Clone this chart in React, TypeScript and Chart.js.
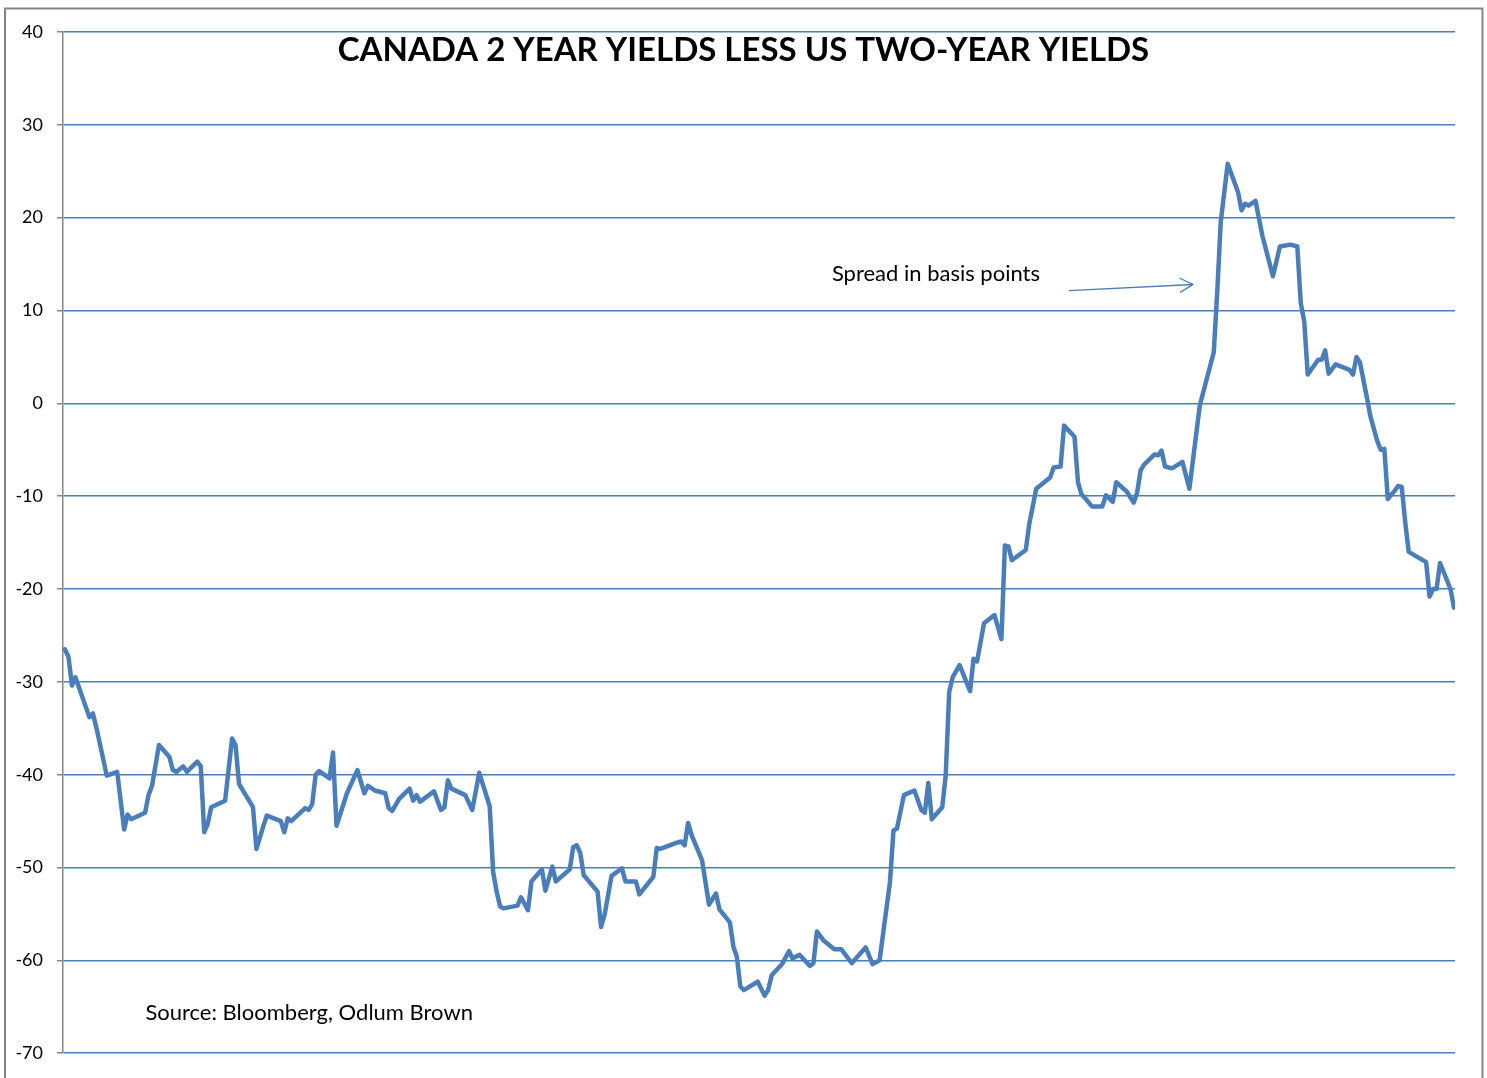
import React, { useEffect, useRef } from "react";
import { Chart, registerables } from "chart.js";

Chart.register(...registerables);

const TITLE = "CANADA 2 YEAR YIELDS LESS US TWO-YEAR YIELDS";
const NOTE = "Spread in basis points";
const SOURCE = "Source: Bloomberg, Odlum Brown";

// week index of each observation
const weeks: number[] = [
  1, 2, 3, 4, 8, 9, 10, 13, 16, 18,
  19, 20, 24, 25, 26, 28, 31, 32, 33, 35,
  36, 39, 40, 41, 42, 43, 47, 49, 50, 51,
  55, 56, 58, 59, 63, 64, 65, 66, 70, 71,
  72, 73, 74, 77, 78, 79, 82, 85, 87, 88,
  90, 93, 94, 95, 97, 100, 101, 102, 103, 107,
  109, 110, 111, 112, 116, 118, 120, 123, 124, 125,
  126, 127, 131, 132, 134, 135, 138, 139, 141, 142,
  146, 147, 148, 149, 150, 154, 155, 156, 158, 161,
  162, 165, 166, 170, 171, 172, 177, 178, 179, 180,
  181, 184, 186, 188, 189, 192, 193, 194, 195, 196,
  200, 202, 203, 204, 207, 209, 210, 212, 215, 216,
  217, 219, 222, 224, 225, 227, 231, 233, 235, 238,
  239, 240, 242, 245, 247, 248, 249, 250, 253, 254,
  255, 256, 258, 261, 262, 263, 265, 268, 270, 271,
  272, 273, 277, 278, 280, 284, 285, 287, 288, 291,
  292, 293, 294, 296, 299, 300, 302, 303, 306, 308,
  309, 310, 311, 314, 315, 316, 317, 319, 322, 324,
  327, 331, 332, 333, 335, 338, 339, 340, 341, 343,
  345, 348, 350, 353, 355, 356, 357, 358, 361, 362,
  363, 364, 366, 370, 371, 372, 373, 375, 376, 378,
  379, 380, 381, 383, 384, 385, 386, 387, 392, 393,
  394, 395, 396, 399, 400,
];

// Canada 2y minus US 2y, basis points
const spread: number[] = [
  -26.5, -27.3, -30.4, -29.5, -33.8, -33.4, -34.9, -40.1, -39.7, -45.9,
  -44.3, -44.8, -44.1, -42.2, -41.2, -36.8, -38.1, -39.5, -39.7, -39.1,
  -39.7, -38.6, -39.1, -46.2, -45.3, -43.5, -42.8, -36.1, -36.8, -41.0,
  -43.5, -48.0, -45.5, -44.4, -45.0, -46.2, -44.7, -45.0, -43.6, -43.8,
  -43.2, -40.0, -39.6, -40.4, -37.6, -45.5, -42.0, -39.5, -42.0, -41.2,
  -41.7, -42.0, -43.6, -43.9, -42.6, -41.5, -42.8, -42.2, -42.9, -41.8,
  -43.8, -43.5, -40.6, -41.5, -42.2, -43.8, -39.8, -43.4, -50.5, -52.6,
  -54.2, -54.4, -54.1, -53.2, -54.6, -51.5, -50.2, -52.5, -49.9, -51.5,
  -50.2, -47.8, -47.6, -48.4, -50.8, -52.6, -56.4, -55.1, -50.9, -50.1,
  -51.5, -51.5, -52.9, -51.0, -47.9, -48.0, -47.3, -47.2, -47.6, -45.2,
  -46.5, -49.2, -54.0, -52.8, -54.5, -55.9, -58.5, -59.6, -62.8, -63.2,
  -62.3, -63.8, -63.2, -61.6, -60.4, -59.0, -59.8, -59.4, -60.6, -60.3,
  -56.9, -57.9, -58.8, -58.8, -59.3, -60.3, -58.6, -60.4, -60.0, -51.5,
  -46.0, -45.8, -42.2, -41.7, -43.8, -44.1, -40.9, -44.8, -43.5, -40.1,
  -31.1, -29.5, -28.2, -31.0, -27.5, -27.8, -23.7, -22.8, -25.4, -15.3,
  -15.4, -16.9, -15.8, -13.0, -9.2, -8.0, -6.9, -6.8, -2.4, -3.6,
  -8.5, -9.8, -10.2, -11.1, -11.1, -9.9, -10.6, -8.5, -9.5, -10.7,
  -9.6, -7.2, -6.6, -5.5, -5.6, -5.1, -6.8, -7.0, -6.3, -9.2,
  -0.2, 5.5, 12.0, 19.5, 25.8, 22.7, 20.8, 21.5, 21.3, 21.8,
  18.0, 13.7, 16.9, 17.1, 16.9, 10.8, 8.8, 3.1, 4.7, 4.7,
  5.7, 3.2, 4.2, 3.6, 3.1, 5.0, 4.4, 0.6, -1.4, -4.1,
  -5.0, -4.9, -10.3, -9.4, -8.9, -9.0, -12.8, -16.0, -17.1, -20.8,
  -20.0, -20.0, -17.2, -20.0, -22.0,
];

const Y_MIN = -70;
const Y_MAX = 40;
const Y_STEP = 10;

// annotation anchors in data units (week, bp)
const noteAt = { x: 221.3, y: 13.9 };
const arrowFrom = { x: 289.4, y: 12.15 };
const arrowTo = { x: 325.0, y: 12.8 };
const sourceAt = { x: 24.1, y: -65.7 };

const LINE_BLUE = "#4a7ebb";
const AXIS_GRAY = "#868686";
const FONT = "Lato, 'Open Sans', 'DejaVu Sans', sans-serif";

const decorPlugin = {
  id: "decor",
  beforeDraw(chart: any) {
    const { ctx, width } = chart;
    ctx.save();
    ctx.fillStyle = "#ffffff";
    ctx.fillRect(0, 0, width, chart.height);
    ctx.strokeStyle = AXIS_GRAY;
    ctx.lineWidth = 2;
    ctx.strokeRect(5, 8.5, width - 9.5, chart.height + 20);
    ctx.restore();
  },
  afterDatasetsDraw(chart: any) {
    const { ctx, scales } = chart;
    const xs = scales.x;
    const ys = scales.y;
    ctx.save();
    // title
    ctx.fillStyle = "#000000";
    ctx.font = `bold 33px ${FONT}`;
    ctx.textAlign = "center";
    ctx.textBaseline = "middle";
    ctx.fillText(TITLE, chart.width / 2, 50);

    // note
    ctx.font = `22px ${FONT}`;
    ctx.textAlign = "left";
    ctx.fillText(NOTE, xs.getPixelForValue(noteAt.x), ys.getPixelForValue(noteAt.y));
    ctx.fillText(SOURCE, xs.getPixelForValue(sourceAt.x), ys.getPixelForValue(sourceAt.y));

    // arrow
    const x1 = xs.getPixelForValue(arrowFrom.x);
    const y1 = ys.getPixelForValue(arrowFrom.y);
    const x2 = xs.getPixelForValue(arrowTo.x);
    const y2 = ys.getPixelForValue(arrowTo.y);
    const ang = Math.atan2(y2 - y1, x2 - x1);
    const head = 15;
    const spread = 0.5;
    ctx.strokeStyle = LINE_BLUE;
    ctx.lineWidth = 1.3;
    ctx.beginPath();
    ctx.moveTo(x1, y1);
    ctx.lineTo(x2, y2);
    ctx.moveTo(x2 - head * Math.cos(ang - spread), y2 - head * Math.sin(ang - spread));
    ctx.lineTo(x2, y2);
    ctx.lineTo(x2 - head * Math.cos(ang + spread), y2 - head * Math.sin(ang + spread));
    ctx.stroke();
    ctx.restore();
  },
};

export default function App() {
  const ref = useRef<HTMLCanvasElement | null>(null);

  useEffect(() => {
    document.body.style.margin = "0";
    document.body.style.overflow = "hidden";
    const canvas = ref.current;
    if (!canvas) return;
    const points = weeks.map((w, i) => ({ x: w, y: spread[i] }));
    const chart = new Chart(canvas, {
      type: "line",
      data: {
        datasets: [
          {
            label: "Spread",
            data: points,
            borderColor: LINE_BLUE,
            borderWidth: 4.5,
            pointRadius: 0,
            tension: 0,
            fill: false,
            borderJoinStyle: "round",
            borderCapStyle: "round",
          },
        ],
      },
      options: {
        animation: false,
        responsive: false,
        parsing: true,
        layout: { autoPadding: false, padding: { left: 0, top: 32, right: 32, bottom: 23 } },
        plugins: {
          legend: { display: false },
          title: { display: false },
          tooltip: { enabled: false },
        },
        scales: {
          x: {
            type: "linear",
            min: 0.43,
            max: 400.3,
            display: false,
          },
          y: {
            min: Y_MIN,
            max: Y_MAX,
            afterFit(scale: any) {
              scale.width = 63;
            },
            ticks: {
              stepSize: Y_STEP,
              color: "#000000",
              font: { family: FONT, size: 18 },
              padding: 14,
            },
            grid: {
              color: LINE_BLUE,
              lineWidth: 1.5,
              tickColor: AXIS_GRAY,
              tickLength: 6,
              drawTicks: true,
            },
            border: { color: AXIS_GRAY, width: 1.5 },
          },
        },
      },
      plugins: [decorPlugin],
    });
    return () => chart.destroy();
  }, []);

  return (
    <div style={{ width: 1487, height: 1078, position: "relative" }}>
      <canvas ref={ref} width={1487} height={1078} style={{ display: "block" }} />
    </div>
  );
}
